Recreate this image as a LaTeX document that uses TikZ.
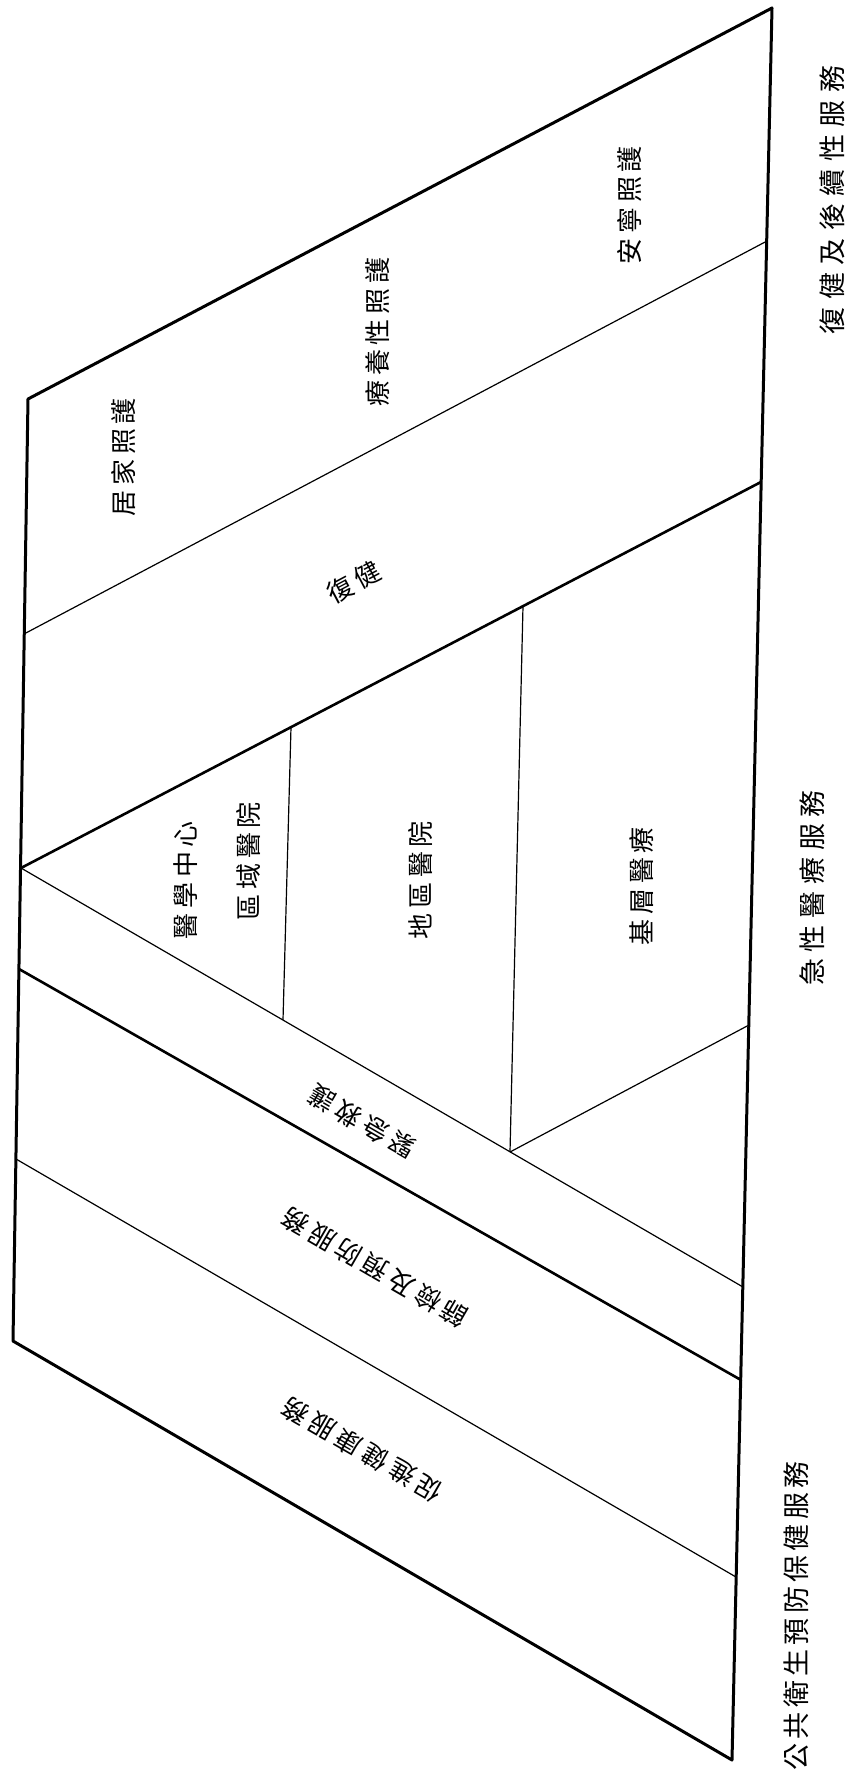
\documentclass[tikz,border=0pt]{standalone}
\usepackage{fontspec}
\newfontfamily\cjkin[LetterSpace=18]{Noto Sans CJK TC}
\newfontfamily\cjkA[LetterSpace=28]{Noto Sans CJK TC}
\newfontfamily\cjkB[LetterSpace=25]{Noto Sans CJK TC}
\newfontfamily\cjkC[LetterSpace=16]{Noto Sans CJK TC}
\begin{document}
\begin{tikzpicture}[x=1pt,y=-1pt,
  outerline/.style={line width=3pt, line join=round, line cap=round},
  heavyline/.style={line width=2.6pt, line cap=round},
  fineline/.style={line width=1.2pt},
  lab/.style={inner sep=0pt, font=\cjkin\fontsize{26}{26}\selectfont},
  sidelab/.style={inner sep=0pt, rotate=90}]
\useasboundingbox (0,0) rectangle (846,1784);
% corners
\coordinate (TR) at (772,8);
\coordinate (TL) at (28,399);
\coordinate (BL) at (13,1341);
\coordinate (BR) at (732,1760);
% band points
\coordinate (L1) at (24,634);   \coordinate (R1) at (767,241);
\coordinate (A)  at (21,868);   \coordinate (R2) at (761,482);
\coordinate (R3) at (743,1287);
\coordinate (V1t) at (291,727); \coordinate (V1b) at (283,1020);
\coordinate (V2t) at (523,606); \coordinate (V2b) at (510,1152);
\coordinate (R4) at (749,1025);
\coordinate (L5) at (19,969);   \coordinate (R5) at (741,1380);
\coordinate (L6) at (16,1159);  \coordinate (R6) at (736,1577);
% outline
\draw[outerline] (TR) -- (TL) -- (BL) -- (BR) -- cycle;
% rehabilitation side
\draw[fineline] (L1) -- (R1);
\draw[heavyline] (A) -- (R2);
% acute care triangle
\draw[fineline] (A) -- (R3);
\draw[fineline] (V1t) -- (V1b);
\draw[fineline] (V2t) -- (V2b);
\draw[fineline] (V2b) -- (R4);
% public health bands
\draw[heavyline] (L5) -- (R5);
\draw[fineline] (L6) -- (R6);
% inner labels
\node[lab, rotate=90] (t1) at (124,457) {居家照護};
\node[lab, rotate=90] (t2) at (378,332) {療養性照護};
\node[lab, rotate=90] (t3) at (630,205) {安寧照護};
\node[lab, rotate=28] (t4) at (354,582) {復健};
\node[lab, rotate=90] (t5) at (186,880) {醫學中心};
\node[lab, rotate=90] (t6) at (248,861) {區域醫院};
\node[lab, rotate=90] (t7) at (420,880) {地區醫院};
\node[lab, rotate=90] (t8) at (642,886) {基層醫療};
\node[lab, rotate=150] (t9) at (362,1122) {緊急救護};
\node[lab, rotate=150] (t10) at (375,1268) {篩檢及預防服務};
\node[lab, rotate=150] (t11) at (362,1450) {促進健康服務};
% side labels
\node[sidelab, font=\cjkA\fontsize{27}{27}\selectfont] (s1) at (832,200) {復健及後續性服務};
\node[sidelab, font=\cjkB\fontsize{27}{27}\selectfont] (s2) at (812,888) {急性醫療服務};
\node[sidelab, font=\cjkC\fontsize{27}{27}\selectfont] (s3) at (796,1616) {公共衛生預防保健服務};
\end{tikzpicture}
\end{document}
